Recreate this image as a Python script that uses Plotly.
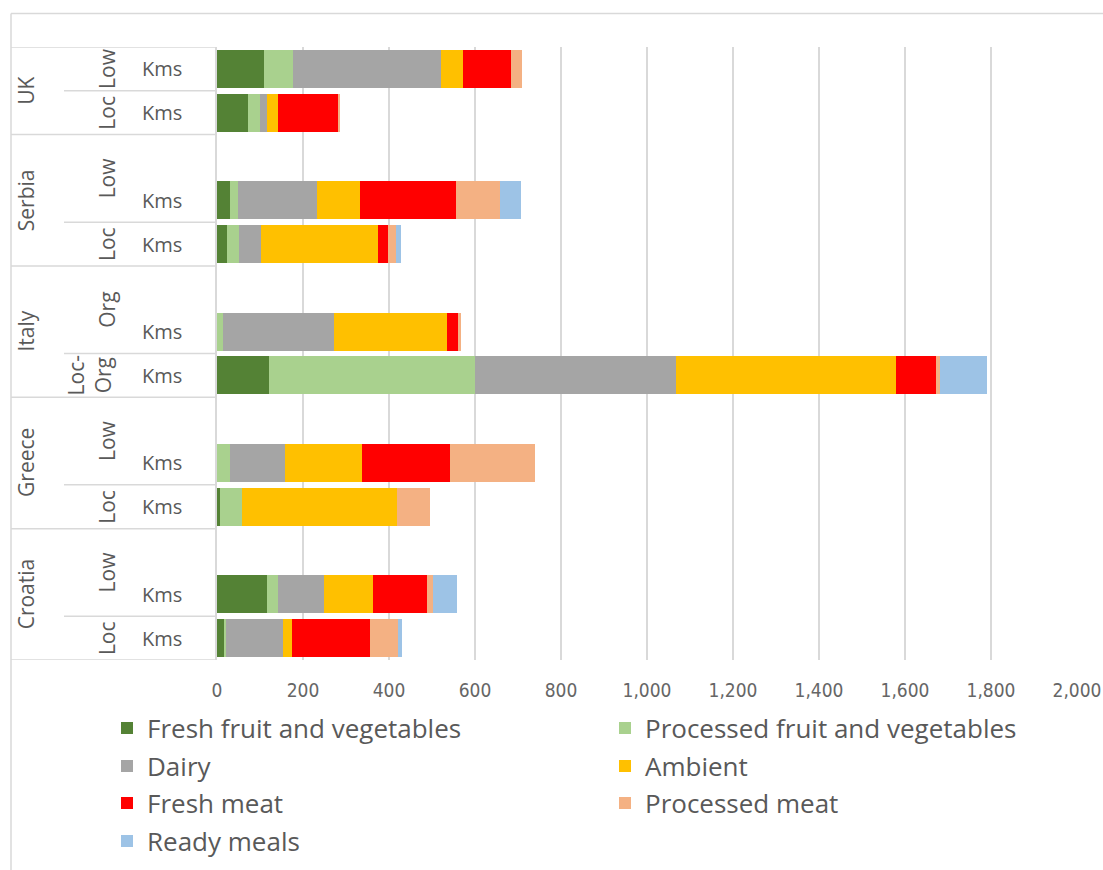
import plotly.graph_objects as go

# ---------------- data ----------------
rows = [
    ("UK", "Low", "Kms"), ("UK", "Loc", "Kms"),
    ("Serbia", "Low", ""), ("Serbia", "Low", "Kms"), ("Serbia", "Loc", "Kms"),
    ("Italy", "Org", ""), ("Italy", "Org", "Kms"), ("Italy", "Loc-Org", "Kms"),
    ("Greece", "Low", ""), ("Greece", "Low", "Kms"), ("Greece", "Loc", "Kms"),
    ("Croatia", "Low", ""), ("Croatia", "Low", "Kms"), ("Croatia", "Loc", "Kms"),
]
bars = [("UK", "Low"), ("UK", "Loc"), ("Serbia", "Low"), ("Serbia", "Loc"),
        ("Italy", "Org"), ("Italy", "Loc-Org"), ("Greece", "Low"), ("Greece", "Loc"),
        ("Croatia", "Low"), ("Croatia", "Loc")]

fresh_fv     = [110, 72, 31, 24, 0, 120, 0, 8, 117, 17]
processed_fv = [66, 28, 17, 27, 14, 481, 31, 50, 26, 3]
dairy        = [346, 17, 184, 51, 259, 466, 126, 0, 106, 133]
ambient      = [49, 24, 100, 272, 262, 512, 181, 361, 113, 21]
fresh_meat   = [113, 141, 223, 24, 25, 93, 205, 0, 127, 181]
proc_meat    = [26, 4, 103, 19, 8, 9, 197, 76, 13, 65]
ready_meals  = [0, 0, 50, 12, 0, 110, 0, 0, 55, 10]

series = [
    ("Fresh fruit and vegetables", fresh_fv, "#548235"),
    ("Processed fruit and vegetables", processed_fv, "#a9d18e"),
    ("Dairy", dairy, "#a5a5a5"),
    ("Ambient", ambient, "#ffc000"),
    ("Fresh meat", fresh_meat, "#ff0000"),
    ("Processed meat", proc_meat, "#f4b183"),
    ("Ready meals", ready_meals, "#9dc3e6"),
]
x_ticks = list(range(0, 2001, 200))

# ---------------- geometry helpers ----------------
W, H = 1103, 870
L, R, T, B = 217, 26, 47, 210
PW, PH = W - L - R, H - T - B


def px(p):
    return (p - L) / PW


def py(p):
    return (H - B - p) / PH


bar_y = [rows.index((c, s, "Kms")) for c, s in bars]
legend_rows = ["legend", "legend", "legend2", "legend2", "legend3", "legend3", "legend4"]

fig = go.Figure()
for (name, vals, col), lg in zip(series, legend_rows):
    fig.add_trace(go.Bar(
        y=bar_y, x=vals, name=name, orientation="h",
        marker=dict(color=col, line=dict(width=0)),
        legend=lg,
    ))

LINE = "#d9d9d9"
TXT = "#595959"
shapes = []
annos = []

# outer chart border (top and left)
shapes.append(dict(type="line", xref="paper", yref="paper", x0=px(11), x1=px(1110),
                   y0=py(13.5), y1=py(13.5), line=dict(color=LINE, width=1.5)))
shapes.append(dict(type="line", xref="paper", yref="paper", x0=px(11), x1=px(11),
                   y0=py(13.5), y1=py(880), line=dict(color=LINE, width=1.5)))

# table: country blocks and sub blocks
n = len(rows)
countries = []
for i, r in enumerate(rows):
    if not countries or countries[-1][0] != r[0]:
        countries.append([r[0], i, i])
    else:
        countries[-1][2] = i
subs = []
for i, r in enumerate(rows):
    key = (r[0], r[1])
    if not subs or subs[-1][0] != key:
        subs.append([key, i, i])
    else:
        subs[-1][2] = i

for name, a, b in countries:
    shapes.append(dict(type="line", xref="paper", yref="y", x0=px(11), x1=px(L),
                       y0=a - 0.5, y1=a - 0.5, line=dict(color=LINE, width=1.5)))
    annos.append(dict(xref="paper", yref="y", x=px(26), y=(a + b) / 2, text=name,
                      textangle=-90, showarrow=False, xanchor="center", yanchor="middle",
                      font=dict(family="Open Sans", size=21, color=TXT)))
shapes.append(dict(type="line", xref="paper", yref="y", x0=px(11), x1=px(L),
                   y0=n - 0.5, y1=n - 0.5, line=dict(color=LINE, width=1.5)))

for (c, s), a, b in subs:
    if a != [r for r in countries if r[0] == c][0][1]:
        shapes.append(dict(type="line", xref="paper", yref="y", x0=px(64), x1=px(L),
                           y0=a - 0.5, y1=a - 0.5, line=dict(color=LINE, width=1.5)))
    txt = "Loc-<br>Org" if s == "Loc-Org" else s
    annos.append(dict(xref="paper", yref="y", x=px(107) if s != "Loc-Org" else px(89),
                      y=(a + b) / 2, text=txt,
                      textangle=-90, showarrow=False, xanchor="center", yanchor="middle",
                      font=dict(family="Open Sans", size=21, color=TXT)))

for i, r in enumerate(rows):
    if r[2]:
        annos.append(dict(xref="paper", yref="y", x=px(162), y=i, text=r[2],
                          showarrow=False, xanchor="center", yanchor="middle",
                          font=dict(family="Open Sans", size=20, color=TXT)))

legfont = dict(family="Open Sans", size=26, color=TXT)


def leg(center, left):
    return dict(orientation="h", x=px(left), xanchor="left",
                y=py(center), yanchor="middle",
                entrywidth=453, entrywidthmode="pixels", font=legfont,
                bgcolor="rgba(0,0,0,0)", traceorder="normal")


fig.update_layout(
    width=W, height=H,
    margin=dict(l=L, r=R, t=T, b=B, autoexpand=False),
    paper_bgcolor="white", plot_bgcolor="white",
    barmode="stack", bargap=0.13,
    showlegend=True,
    legend=leg(728, 107), legend2=leg(766, 107), legend3=leg(803, 107), legend4=leg(841, 107),
    xaxis=dict(range=[0, 2000], tickvals=x_ticks, tickformat=",d",
               showgrid=True, gridcolor=LINE, gridwidth=1.5, zeroline=False,
               showline=False, ticks="", ticklabelstandoff=17, automargin=False,
               tickfont=dict(family="Liberation Sans Narrow, DejaVu Sans Condensed, sans-serif",
                             size=19, color="#666666"),
               fixedrange=True),
    yaxis=dict(range=[n - 0.5, -0.5], showticklabels=False, showgrid=False,
               zeroline=False, showline=True, linecolor=LINE, linewidth=1.5,
               ticks="", fixedrange=True, automargin=False),
    shapes=shapes, annotations=annos,
)

fig.write_html("out.html")
